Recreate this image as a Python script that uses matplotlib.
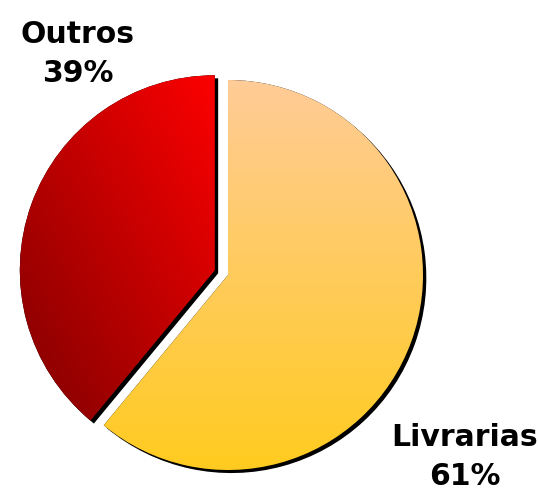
import numpy as np
import matplotlib
matplotlib.use("Agg")
import matplotlib.pyplot as plt
import matplotlib.patheffects as pe
from matplotlib.colors import LinearSegmentedColormap

categorie = ["Livrarias", "Outros"]
percentuali = [61, 39]
esplosione = [0, 14]   # pie usa unita' dei dati

# colori sfumati: (inizio, fine) per ogni fetta
sfumature = [("#FFCB99", "#FFCC1E"), ("#FF0000", "#7A0000")]

fig = plt.figure(figsize=(5.38, 4.95), dpi=100)
ax = fig.add_axes([0, 0, 1, 1])

wedges, _ = ax.pie(percentuali, startangle=90, counterclock=False,
                   center=(228, 220), radius=195, explode=esplosione,
                   wedgeprops=dict(linewidth=0, facecolor="black"),
                   frame=True)
ax.set_xlim(0, 538)
ax.set_ylim(0, 495)
ax.set_aspect("equal")
ax.axis("off")

for w in wedges:
    w.set_path_effects([pe.SimplePatchShadow(offset=(2.4, -2.2), shadow_rgbFace="black", alpha=1.0), pe.Normal()])

# sfumatura gialla verticale (alto -> basso)
y = np.linspace(0, 1, 256).reshape(-1, 1)
cm0 = LinearSegmentedColormap.from_list("liv", list(sfumature[0]))
img0 = ax.imshow(y, cmap=cm0, extent=(20, 430, 20, 420), origin="upper", aspect="auto", zorder=3)
img0.set_clip_path(wedges[0])

# sfumatura rossa diagonale (alto-destra -> basso-sinistra)
xx, yy = np.meshgrid(np.linspace(0, 1, 256), np.linspace(0, 1, 256))
diag = ((1 - xx) + yy) / 2
cm1 = LinearSegmentedColormap.from_list("out", list(sfumature[1]))
img1 = ax.imshow(diag, cmap=cm1, extent=(10, 220, 60, 425), origin="upper", aspect="auto", zorder=3)
img1.set_clip_path(wedges[1])

ax.set_xlim(0, 538)
ax.set_ylim(0, 495)

# etichette
posizioni = [(465, 38), (78, 441)]
for cat, pct, (px, py) in zip(categorie, percentuali, posizioni):
    ax.text(px, py, f"{cat}\n{pct}%", ha="center", va="center", fontsize=21.5,
            fontweight="bold", family="DejaVu Sans", linespacing=1.45, zorder=5)

fig.savefig("out.png", dpi=100)
